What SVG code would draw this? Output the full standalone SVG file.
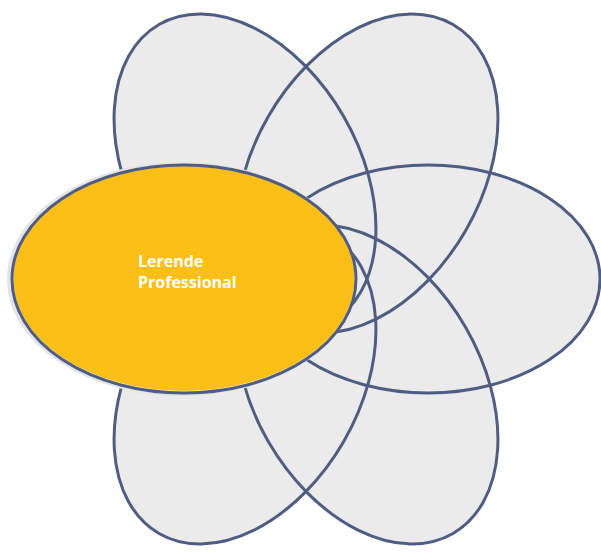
<svg xmlns="http://www.w3.org/2000/svg" width="601" height="552" viewBox="0 0 601 552">
  <style>
    .petal { fill: #EBEBEB; stroke: none; }
    .rim { fill: none; stroke: #505D82; stroke-width: 3; }
    .halo { fill: none; stroke: #E4E4E4; stroke-width: 6; }
    .core { fill: #FBBF17; stroke: #FFFFFF; stroke-width: 1; stroke-opacity: 0.7; }
    .label { font-family: "Open Sans", "Liberation Sans", sans-serif; font-size: 16px; font-weight: 700; fill: #FFFFFF; }
  </style>
  <defs>
    <ellipse id="shape" cx="0" cy="0" rx="172" ry="114"/>
  </defs>

  <!-- petal fills -->
  <g id="petal-fills">
    <use href="#shape" class="petal" transform="translate(428 279)"/>
    <use href="#shape" class="petal" transform="translate(245 173.5) rotate(60)"/>
    <use href="#shape" class="petal" transform="translate(367 173.5) rotate(-60)"/>
    <use href="#shape" class="petal" transform="translate(245 384.5) rotate(-60)"/>
    <use href="#shape" class="petal" transform="translate(367 384.5) rotate(60)"/>
  </g>

  <!-- petal outlines, drawn over every fill so all crossings stay visible -->
  <g id="petal-outlines">
    <use href="#shape" class="rim" transform="translate(428 279)"/>
    <use href="#shape" class="rim" transform="translate(245 173.5) rotate(60)"/>
    <use href="#shape" class="rim" transform="translate(367 173.5) rotate(-60)"/>
    <use href="#shape" class="rim" transform="translate(245 384.5) rotate(-60)"/>
    <use href="#shape" class="rim" transform="translate(367 384.5) rotate(60)"/>
  </g>

  <!-- highlighted petal on the left -->
  <g id="lerende-professional">
    <use href="#shape" class="halo" transform="translate(182 279)"/>
    <use href="#shape" class="core" transform="translate(184 278.5) scale(0.995 0.99)"/>
    <use href="#shape" class="rim" transform="translate(184 279)"/>
    <text class="label" x="138" y="267">Lerende</text>
    <text class="label" x="138" y="288">Professional</text>
  </g>
</svg>
